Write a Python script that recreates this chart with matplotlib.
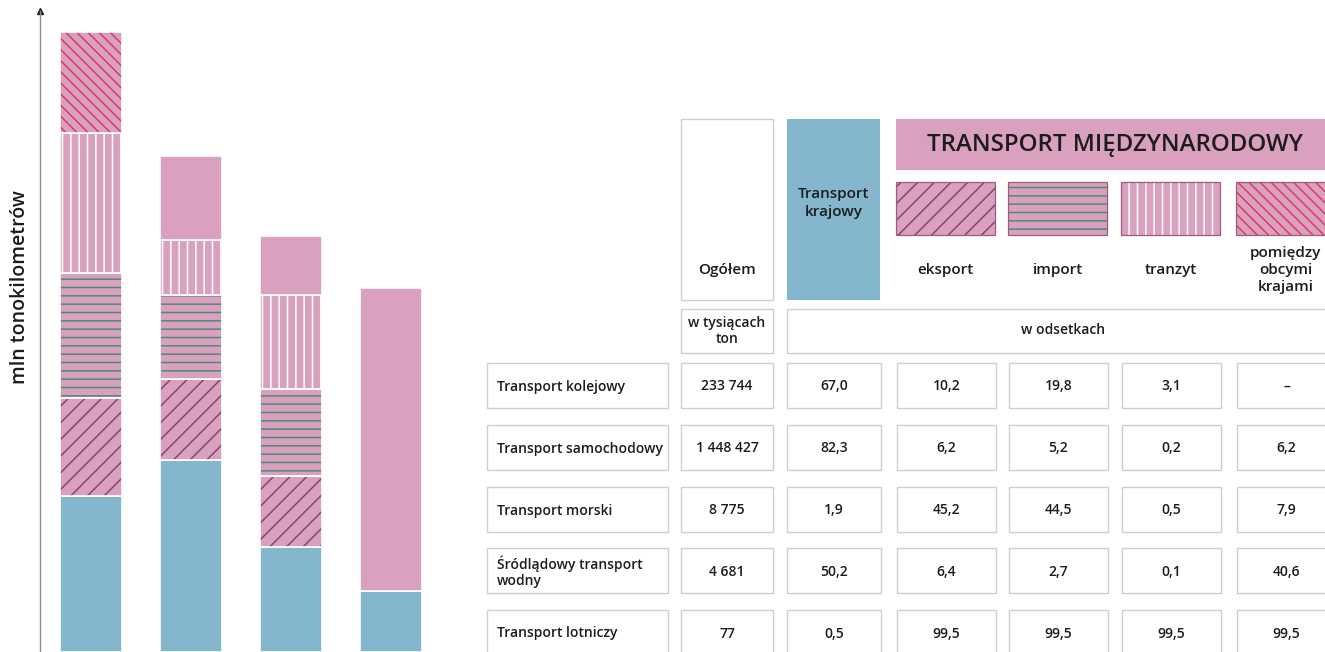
import matplotlib
matplotlib.use("Agg")
import matplotlib.pyplot as plt
from matplotlib.patches import Rectangle

plt.rcParams["font.family"] = ["Open Sans", "DejaVu Sans"]
plt.rcParams["hatch.linewidth"] = 1.1

BLUE = "#84b7ce"
PINK = "#d9a1bf"
TXT = "#1c1c1c"
GRID = "#cfcfcf"

# --- dane: wykres słupkowy (mln tonokilometrów) ---
bars_x = [0, 1, 2, 3]
krajowy_tkm = [156, 192, 105, 61]
eksport_tkm = [98, 81, 71, 0]
import_tkm = [125, 84, 87, 0]
tranzyt_tkm = [140, 55, 94, 0]
pomiedzy_tkm = [101, 84, 59, 303]
pomiedzy_hatch = ["\\\\\\", "", "", ""]

# --- dane: tabela ---
row_labels = ["Transport kolejowy", "Transport samochodowy", "Transport morski",
              "Śródlądowy transport\nwodny", "Transport lotniczy"]
ogolem = ["233 744", "1 448 427", "8 775", "4 681", "77"]
krajowy = ["67,0", "82,3", "1,9", "50,2", "0,5"]
eksport = ["10,2", "6,2", "45,2", "6,4", "99,5"]
import_ = ["19,8", "5,2", "44,5", "2,7", "99,5"]
tranzyt = ["3,1", "0,2", "0,5", "0,1", "99,5"]
pomiedzy = ["–", "6,2", "7,9", "40,6", "99,5"]

# (nazwa, wysokości, hatch, kolor kreskowania)
series = [
    ("krajowy", krajowy_tkm, ["", "", "", ""], BLUE),
    ("eksport", eksport_tkm, ["//"] * 4, "#86466a"),
    ("import", import_tkm, ["--"] * 4, "#4f8a74"),
    ("tranzyt", tranzyt_tkm, ["||"] * 4, "#ffffff"),
    ("pomiedzy", pomiedzy_tkm, pomiedzy_hatch, "#dc3a62"),
]

W, H = 1325, 652
fig = plt.figure(figsize=(W / 100, H / 100), dpi=100)

# ---------------- wykres ----------------
ax = fig.add_axes([39.5 / W, 0, 461 / W, 641 / H])
ax.patch.set_visible(False)
bottoms = [0] * len(bars_x)
for name, vals, hatches, hcol in series:
    for i, x in enumerate(bars_x):
        if vals[i] <= 0:
            continue
        fc = BLUE if name == "krajowy" else PINK
        ax.bar(x, vals[i], bottom=bottoms[i], width=0.62, color=fc,
               hatch=hatches[i] or None, edgecolor=hcol, linewidth=0)
        ax.bar(x, vals[i], bottom=bottoms[i], width=0.62, fill=False,
               edgecolor="white", linewidth=1.2)
        bottoms[i] += vals[i]
ax.set_xlim(-0.51, 4.1)
ax.set_ylim(0, 641)
for s in ["top", "right", "bottom"]:
    ax.spines[s].set_visible(False)
ax.spines["left"].set_color("#8c8c8c")
ax.spines["left"].set_linewidth(1)
ax.set_xticks([])
ax.set_yticks([])
ax.plot(0, 1, marker="^", ms=4, color="#222222", transform=ax.transAxes, clip_on=False)
fig.text(20 / W, 1 - 287 / H, "mln tonokilometrów", rotation=90, ha="center",
         va="center", fontsize=14, fontweight=600, color=TXT)

# ---------------- tabela ----------------
tx = fig.add_axes([0, 0, 1, 1])
tx.set_xlim(0, W)
tx.set_ylim(H, 0)
tx.axis("off")


def box(x0, y0, w, h, fc="white", ec=GRID, lw=1.0, hatch=None):
    tx.add_patch(Rectangle((x0, y0), w, h, facecolor=fc, edgecolor=ec,
                           linewidth=lw, hatch=hatch))


def label(x, y, s, size=10, ha="center", weight=600, ls=1.2):
    tx.text(x, y, s, ha=ha, va="center", fontsize=size, fontweight=weight,
            color=TXT, linespacing=ls)


col_x = [487, 681, 787, 897, 1009, 1122, 1237]
col_w = [181, 92, 94, 99, 99, 99, 99]
row_y = [363, 425, 487, 548, 610]
row_h = 45

# nagłówki
box(681, 119, 92, 181)
label(727, 270, "Ogółem", size=11)
box(787, 119, 93, 181, fc=BLUE, ec="none", lw=0)
label(834, 203, "Transport\nkrajowy", size=11, ls=1.3)
box(896, 119, 450, 51, fc=PINK, ec="none", lw=0)
label(1115, 145, "TRANSPORT MIĘDZYNARODOWY", size=17.3, weight=600)

sw_hatch = ["//", "--", "||", "\\\\\\"]
sw_col = ["#86466a", "#4f8a74", "#ffffff", "#dc3a62"]
sw_names = ["eksport", "import", "tranzyt", "pomiędzy\nobcymi\nkrajami"]
for k in range(4):
    x0 = col_x[3 + k] - 1
    tx.add_patch(Rectangle((x0, 182), 99, 53, facecolor=PINK, edgecolor=sw_col[k],
                           linewidth=0, hatch=sw_hatch[k]))
    tx.add_patch(Rectangle((x0, 182), 99, 53, fill=False, edgecolor="#9c5c7e",
                           linewidth=0.9))
    label(x0 + 49.5, 270, sw_names[k], size=11, ls=1.25)

box(681, 309, 92, 44)
label(727, 331, "w tysiącach\nton", size=10)
box(787, 309, 560, 44)
label(1063, 330, "w odsetkach", size=10)

# wiersze
cols = [row_labels, ogolem, krajowy, eksport, import_, tranzyt, pomiedzy]
for r, y0 in enumerate(row_y):
    for c, vals in enumerate(cols):
        box(col_x[c], y0, col_w[c], row_h)
        if c == 0:
            label(col_x[c] + 10, y0 + row_h / 2 + 1, vals[r], size=10, ha="left")
        else:
            label(col_x[c] + col_w[c] / 2, y0 + row_h / 2 + 1, vals[r], size=10)

fig.savefig("out.png", dpi=100, facecolor="white")
